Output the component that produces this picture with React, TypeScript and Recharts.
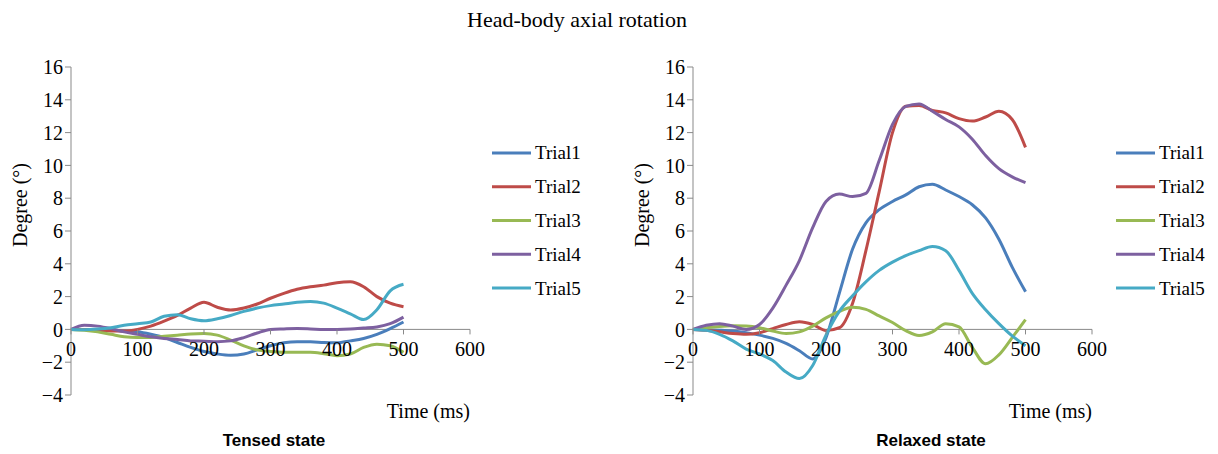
import React from "react";
import { LineChart, Line, XAxis, YAxis, Legend, ReferenceLine } from "recharts";

// sample times (ms), shared by every trial
const times = [0, 20, 40, 60, 80, 100, 120, 140, 160, 180, 200, 220, 240, 260, 280, 300, 320, 340, 360, 380, 400, 420, 440, 460, 480, 500];

// Tensed state (degrees)
const tensedTrial1 = [0, 0, -0.05, -0.05, -0.1, -0.15, -0.3, -0.5, -0.8, -1.1, -1.35, -1.5, -1.58, -1.5, -1.25, -1.0, -0.82, -0.75, -0.75, -0.8, -0.82, -0.7, -0.55, -0.3, 0.05, 0.45];
const tensedTrial2 = [0, 0, -0.05, -0.1, -0.1, 0, 0.2, 0.5, 0.85, 1.3, 1.65, 1.35, 1.18, 1.3, 1.55, 1.9, 2.2, 2.45, 2.6, 2.7, 2.85, 2.9, 2.6, 2.0, 1.6, 1.38];
const tensedTrial3 = [0, -0.05, -0.15, -0.3, -0.45, -0.5, -0.5, -0.42, -0.35, -0.28, -0.25, -0.35, -0.65, -1.0, -1.25, -1.35, -1.4, -1.4, -1.4, -1.48, -1.6, -1.5, -1.1, -0.9, -1.0, -1.4];
const tensedTrial4 = [0, 0.25, 0.2, 0.05, -0.15, -0.3, -0.45, -0.55, -0.62, -0.7, -0.72, -0.75, -0.7, -0.5, -0.22, 0.0, 0.03, 0.05, 0.03, 0, 0, 0.02, 0.08, 0.15, 0.35, 0.75];
const tensedTrial5 = [0, -0.02, 0.02, 0.1, 0.25, 0.35, 0.45, 0.8, 0.9, 0.65, 0.53, 0.65, 0.85, 1.1, 1.3, 1.45, 1.55, 1.65, 1.7, 1.6, 1.3, 0.95, 0.6, 1.2, 2.35, 2.75];

// Relaxed state (degrees)
const relaxedTrial1 = [0, -0.02, -0.05, -0.1, -0.2, -0.35, -0.55, -0.85, -1.3, -1.8, -0.5, 2.2, 4.9, 6.5, 7.3, 7.8, 8.2, 8.7, 8.85, 8.5, 8.1, 7.6, 6.8, 5.5, 3.8, 2.3];
const relaxedTrial2 = [0, -0.05, -0.15, -0.25, -0.3, -0.2, 0.05, 0.3, 0.47, 0.3, -0.06, 0.1, 1.6, 4.8, 8.4, 12.0, 13.6, 13.65, 13.35, 13.2, 12.85, 12.7, 12.95, 13.3, 12.8, 11.1];
const relaxedTrial3 = [0, 0.1, 0.18, 0.22, 0.2, 0.1, -0.1, -0.25, -0.15, 0.2, 0.7, 1.1, 1.35, 1.22, 0.82, 0.42, -0.08, -0.37, -0.15, 0.35, 0.15, -1.1, -2.1, -1.55, -0.5, 0.6];
const relaxedTrial4 = [0, 0.25, 0.35, 0.2, 0, 0.3, 1.3, 2.7, 4.2, 6.2, 7.8, 8.25, 8.1, 8.3, 10.3, 12.5, 13.6, 13.75, 13.3, 12.8, 12.35, 11.6, 10.6, 9.8, 9.3, 8.95];
const relaxedTrial5 = [0, -0.06, -0.3, -0.7, -1.2, -1.5, -1.9, -2.6, -3.0, -2.2, -0.35, 1.1, 2.05, 2.9, 3.6, 4.1, 4.5, 4.8, 5.05, 4.8, 3.6, 2.2, 1.2, 0.35, -0.4, -1.0];

const trialNames = ["Trial1", "Trial2", "Trial3", "Trial4", "Trial5"];
const trialColors = ["#4a7ebb", "#be4b48", "#98b954", "#7d60a0", "#46aac5"];

const xTicks = [0, 100, 200, 300, 400, 500, 600];
const yTicks = [-4, -2, 0, 2, 4, 6, 8, 10, 12, 14, 16];

const SERIF = "'Liberation Serif', 'Times New Roman', serif";
const SANS = "'Liberation Sans', Arial, sans-serif";
const AXIS = "#898989";

const W = 609;
const H = 454;
const TOP = 67;
const XAXIS_H = 30;
const BOTTOM = 29;
const PLOT_H = H - TOP - BOTTOM - XAXIS_H;
const Y_MIN = -4;
const Y_MAX = 16;
const ZERO_Y = TOP + (PLOT_H * Y_MAX) / (Y_MAX - Y_MIN);
const ROW_H = 33.8;

function buildRows(series: number[][]) {
  return times.map((t, i) => {
    const row: Record<string, number> = { t };
    trialNames.forEach((name, k) => {
      row[name] = series[k][i];
    });
    return row;
  });
}

const fmt = (v: number) => (v < 0 ? "\u2212" + Math.abs(v) : String(v));

// x ticks sit on the zero line, not on the bottom of the plot
function ZeroTick(props: any) {
  const { x, payload } = props;
  return (
    <g>
      <line x1={x} x2={x} y1={ZERO_Y} y2={ZERO_Y + 5} stroke={AXIS} strokeWidth={1} />
      <text x={x} y={ZERO_Y + 27} textAnchor="middle" fontSize={20} fontFamily={SERIF} fill="#000">
        {payload.value}
      </text>
    </g>
  );
}

function TrialLegend({ payload }: any) {
  const items = payload || [];
  return (
    <svg width={100} height={ROW_H * items.length}>
      {items.map((e: any, i: number) => {
        const cy = ROW_H * i + ROW_H / 2;
        return (
          <g key={e.value}>
            <line x1={0} y1={cy} x2={39} y2={cy} stroke={e.color} strokeWidth={3} />
            <text x={43} y={cy + 6.5} fontSize={19} fontFamily={SERIF} fill="#000">
              {e.value}
            </text>
          </g>
        );
      })}
    </svg>
  );
}

function StatePanel({
  series,
  left,
  marginLeft,
  marginRight,
  legendLeft,
}: {
  series: number[][];
  left: number;
  marginLeft: number;
  marginRight: number;
  legendLeft: number;
}) {
  const rows = buildRows(series);
  return (
    <div style={{ position: "absolute", left, top: 0 }}>
      <LineChart
        width={W}
        height={H}
        data={rows}
        margin={{ top: TOP, right: marginRight, bottom: BOTTOM, left: marginLeft }}
      >
        <XAxis
          type="number"
          dataKey="t"
          domain={[0, 600]}
          ticks={xTicks}
          interval={0}
          height={XAXIS_H}
          axisLine={false}
          tickLine={false}
          tick={<ZeroTick />}
          label={{
            content: (p: any) => {
              const vb = p.viewBox;
              return (
                <text x={vb.x + vb.width} y={vb.y + 23} textAnchor="end" fontSize={20} fontFamily={SERIF} fill="#000">
                  Time (ms)
                </text>
              );
            },
          }}
        />
        <YAxis
          domain={[Y_MIN, Y_MAX]}
          ticks={yTicks}
          interval={0}
          width={60}
          stroke={AXIS}
          tickSize={6}
          tickMargin={2}
          tickFormatter={fmt}
          tick={{ fill: "#000", fontSize: 20, fontFamily: SERIF }}
          label={{
            content: (p: any) => {
              const vb = p.viewBox;
              const cx = vb.x + 9;
              const cy = vb.y + vb.height / 2 - 26;
              return (
                <text
                  x={cx}
                  y={cy}
                  transform={`rotate(-90 ${cx} ${cy})`}
                  textAnchor="middle"
                  dominantBaseline="central"
                  fontSize={20}
                  fontFamily={SERIF}
                  fill="#000"
                >
                  Degree (°)
                </text>
              );
            },
          }}
        />
        <ReferenceLine y={0} stroke={AXIS} strokeWidth={1} />
        {trialNames.map((name, k) => (
          <Line
            key={name}
            type="monotone"
            dataKey={name}
            stroke={trialColors[k]}
            strokeWidth={3}
            dot={false}
            activeDot={false}
            isAnimationActive={false}
          />
        ))}
        <Legend
          layout="vertical"
          align="center"
          verticalAlign="middle"
          content={<TrialLegend />}
          wrapperStyle={{ left: legendLeft, top: 136, width: 100 }}
        />
      </LineChart>
    </div>
  );
}

export default function App() {
  return (
    <div
      style={{
        position: "absolute",
        left: 0,
        top: 0,
        width: 1218,
        height: 454,
        background: "#fff",
        fontFamily: SERIF,
      }}
    >
      <div
        style={{
          position: "absolute",
          left: 0,
          width: 1154,
          top: 7,
          textAlign: "center",
          fontSize: 22,
          fontFamily: SERIF,
          color: "#000",
        }}
      >
        Head-body axial rotation
      </div>
      <StatePanel
        series={[tensedTrial1, tensedTrial2, tensedTrial3, tensedTrial4, tensedTrial5]}
        left={0}
        marginLeft={11}
        marginRight={139}
        legendLeft={492}
      />
      <StatePanel
        series={[relaxedTrial1, relaxedTrial2, relaxedTrial3, relaxedTrial4, relaxedTrial5]}
        left={609}
        marginLeft={24}
        marginRight={126}
        legendLeft={507}
      />
      <div style={{ position: "absolute", left: 174, width: 200, top: 431, textAlign: "center", fontSize: 17, fontWeight: "bold", fontFamily: SANS, color: "#000" }}>
        Tensed state
      </div>
      <div style={{ position: "absolute", left: 831, width: 200, top: 431, textAlign: "center", fontSize: 17, fontWeight: "bold", fontFamily: SANS, color: "#000" }}>
        Relaxed state
      </div>
    </div>
  );
}
